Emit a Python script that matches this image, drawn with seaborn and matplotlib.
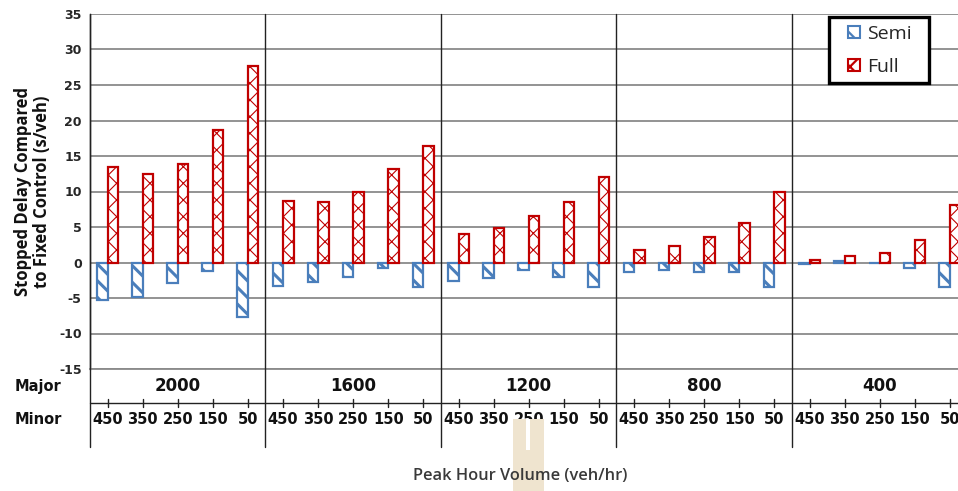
import matplotlib
matplotlib.use("Agg")
import matplotlib.pyplot as plt
import seaborn as sns
import pandas as pd
from matplotlib.patches import Rectangle
from matplotlib.lines import Line2D
from matplotlib.legend_handler import HandlerPatch
import matplotlib.transforms as mtransforms

# ---------------- data ----------------
majors = ["2000", "1600", "1200", "800", "400"]
minors = ["450", "350", "250", "150", "50"]
series = ["Semi", "Full"]
semi = [-5.35, -4.8, -2.9, -1.25, -7.7,
        -3.3, -2.8, -2.0, -0.8, -3.4,
        -2.6, -2.2, -1.1, -2.0, -3.4,
        -1.4, -1.0, -1.3, -1.4, -3.5,
        -0.2, 0.15, -0.1, -0.8, -3.4]
full = [13.4, 12.5, 13.85, 18.7, 27.65,
        8.6, 8.55, 9.9, 13.1, 16.4,
        4.0, 4.85, 6.5, 8.5, 12.1,
        1.7, 2.35, 3.55, 5.6, 10.0,
        0.42, 0.94, 1.4, 3.1, 8.1]
yticks = list(range(-15, 40, 5))

cats = [f"{M}-{m}" for M in majors for m in minors]
df = pd.DataFrame({
    "cat": cats * 2,
    "type": ["Semi"] * len(cats) + ["Full"] * len(cats),
    "value": semi + full,
})

sns.set_theme(style="white")
plt.rcParams["font.family"] = ["DejaVu Sans"]
plt.rcParams["hatch.linewidth"] = 1.4

W, H = 958, 491
fig = plt.figure(figsize=(W / 100, H / 100), dpi=100)
fig.patch.set_facecolor("white")

def fx(px):
    return px / W

def fy(py):
    return 1 - py / H

ax_l, ax_r, ax_t, ax_b = 90, 958, 14, 369
ax = fig.add_axes([fx(ax_l), fy(ax_b), fx(ax_r - ax_l), (ax_b - ax_t) / H])

colors = {"Semi": "#4a7ebb", "Full": "#c00000"}
sns.barplot(data=df, x="cat", y="value", hue="type", order=cats,
            hue_order=series, palette=colors, width=0.6, gap=0,
            errorbar=None, ax=ax, legend=False, zorder=3)

hatches = {"Semi": "\\\\", "Full": "xx"}
hlw = {"Semi": 2.2, "Full": 0.8}
for cont, name in zip(ax.containers, series):
    for bar in cont:
        bar.set_facecolor("white")
        bar.set_edgecolor(colors[name])
        bar.set_linewidth(1.6)
        bar.set_hatch(hatches[name])
        if hasattr(bar, "set_hatch_linewidth"):
            bar.set_hatch_linewidth(hlw[name])

ax.set_xlim(-0.5, 24.23)
ax.set_ylim(-15, 35)
ax.set_yticks(yticks)
ax.set_yticklabels([str(t) for t in yticks], fontsize=9, fontweight="bold")
ax.tick_params(axis="y", length=0, pad=6)
ax.set_xticks([])
ax.set_xlabel("")
ax.set_ylabel("Stopped Delay Compared\nto Fixed Control (s/veh)",
              fontsize=12, fontweight="bold", family="Open Sans",
              linespacing=1.05, color="#111111")
ax.yaxis.set_label_coords(-0.066, 0.5)
ax.yaxis.label.set_va("center")

for y in yticks:
    ax.axhline(y, color="#8a8a8a", lw=1.3, zorder=1)
for s in ["top", "right"]:
    ax.spines[s].set_visible(False)
ax.spines["bottom"].set_color("#8a8a8a")
ax.spines["bottom"].set_linewidth(1.3)
ax.spines["left"].set_color("#222222")
ax.spines["left"].set_linewidth(1.0)

# group separators (extend below the axis)
blend = mtransforms.blended_transform_factory(ax.transData, ax.transAxes)
line_bottom = (ax_b - 447) / (ax_b - ax_t)
for xs in [-0.5, 4.5, 9.5, 14.5, 19.5]:
    ax.add_line(Line2D([xs, xs], [line_bottom, 1.0], transform=blend,
                       color="#222222", lw=1.0, clip_on=False, zorder=4))

# major/minor divider line with ticks
yline = (ax_b - 403) / (ax_b - ax_t)
ax.add_line(Line2D([-0.5, 24.23], [yline, yline], transform=blend,
                   color="#222222", lw=1.0, clip_on=False))
tick_h = 4 / (ax_b - ax_t)
for i in range(len(cats)):
    ax.add_line(Line2D([i, i], [yline - tick_h, yline + tick_h], transform=blend,
                       color="#222222", lw=1.0, clip_on=False))

# major labels
y_major = (ax_b - 386) / (ax_b - ax_t)
for g, M in enumerate(majors):
    ax.text(g * 5 + 2, y_major, M, transform=blend, ha="center", va="center",
            fontsize=12, fontweight="bold", color="#111111")

# minor labels
y_minor = (ax_b - 419) / (ax_b - ax_t)
for i, c in enumerate(cats):
    ax.text(i, y_minor, c.split("-")[1], transform=blend, ha="center",
            va="center", fontsize=10.5, fontweight="bold", color="#111111")

fig.text(fx(15), fy(386), "Major", ha="left", va="center", fontsize=10.5,
         fontweight="bold", color="#111111")
fig.text(fx(15), fy(419), "Minor", ha="left", va="center", fontsize=10.5,
         fontweight="bold", color="#111111")

# watermark-like artifact
fig.patches.append(Rectangle((fx(513), 0), fx(31), fy(419), transform=fig.transFigure,
                             facecolor="#efe4cf", edgecolor="none", zorder=0))
fig.patches.append(Rectangle((fx(526), fy(450)), fx(4), fy(419) - fy(450),
                             transform=fig.transFigure, facecolor="white",
                             edgecolor="none", zorder=0))

fig.text(fx(520), fy(476), "Peak Hour Volume (veh/hr)", ha="center", va="center",
         fontsize=11.8, family="Open Sans", fontweight="semibold", color="#3a3a3a")

# legend
def square_patch(legend, orig_handle, xdescent, ydescent, width, height, fontsize):
    side = 0.62 * fontsize
    return Rectangle((-xdescent + width - side, -ydescent + (height - side) / 2),
                     side, side)

handles = []
for name in series:
    p = Rectangle((0, 0), 1, 1, facecolor="white", edgecolor=colors[name],
                  hatch=hatches[name], lw=1.5)
    handles.append(p)
x0 = (829 - ax_l) / (ax_r - ax_l)
y1 = (ax_b - 17) / (ax_b - ax_t)
wl = 100 / (ax_r - ax_l)
leg = ax.legend(handles, series, loc="upper left", mode="expand",
                bbox_to_anchor=(x0, y1 - 0.2, wl, 0.2),
                borderaxespad=0, frameon=True, fancybox=False, framealpha=1,
                edgecolor="black", handlelength=1.2, handleheight=0.9,
                handletextpad=0.36, borderpad=0.38, labelspacing=0.72,
                handler_map={Rectangle: HandlerPatch(patch_func=square_patch)},
                prop={"family": "Open Sans", "size": 14})
leg.get_frame().set_linewidth(2.4)
leg.set_zorder(10)
for lp in leg.get_patches():
    if hasattr(lp, "set_hatch_linewidth"):
        lp.set_hatch_linewidth(1.6)

fig.savefig("out.png", dpi=100, facecolor="white")
